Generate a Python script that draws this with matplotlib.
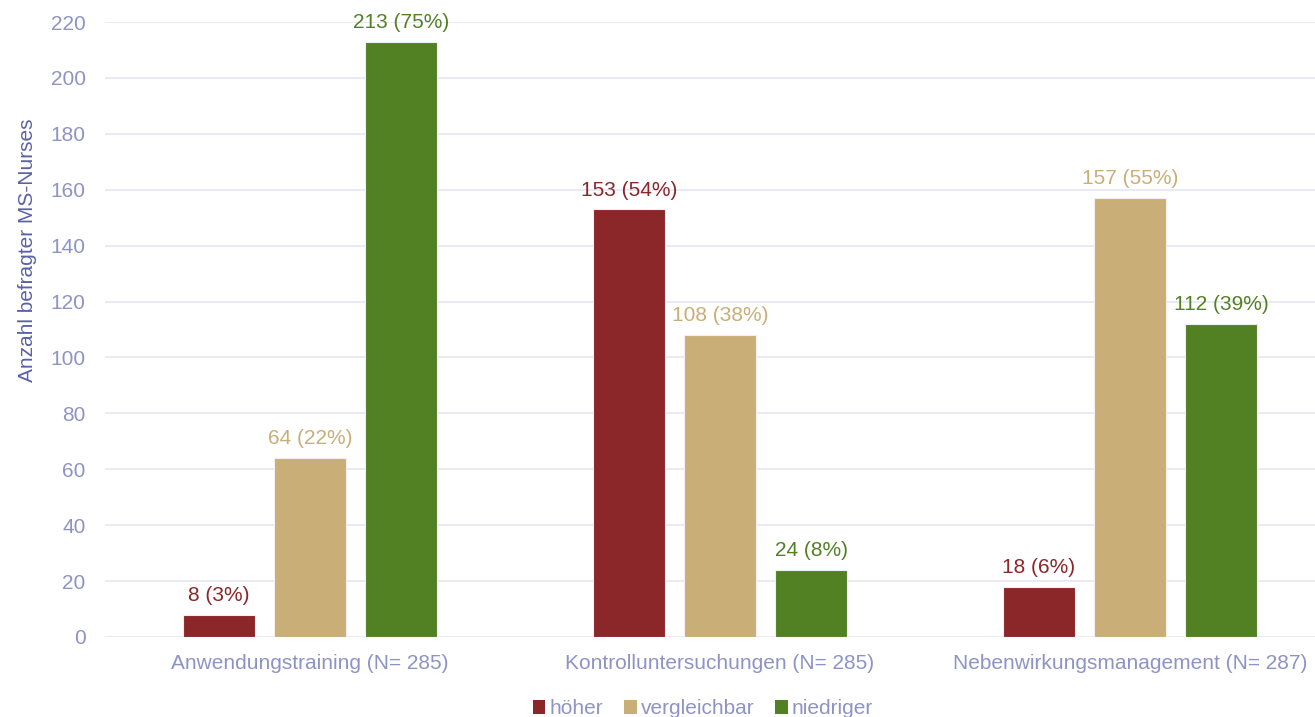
import numpy as np
from matplotlib import pyplot as plt
from matplotlib.patches import Patch

plt.rcParams['font.family'] = ['Liberation Sans', 'DejaVu Sans']

categories = ["Anwendungstraining (N= 285)",
              "Kontrolluntersuchungen (N= 285)",
              "Nebenwirkungsmanagement (N= 287)"]
series = ["höher", "vergleichbar", "niedriger"]
counts = {
    "höher": [8, 153, 18],
    "vergleichbar": [64, 108, 157],
    "niedriger": [213, 24, 112],
}
percents = {
    "höher": [3, 54, 6],
    "vergleichbar": [22, 38, 55],
    "niedriger": [75, 8, 39],
}
colors = {"höher": "#8b2629", "vergleichbar": "#c9ae78", "niedriger": "#528124"}

tick_color = "#8e93c6"
grid_color = "#e6e6f5"
fs = 15

fig = plt.figure(figsize=(13.15, 7.17), dpi=100)
# axes runs a bit past the right edge, like the original
ax = fig.add_axes([105 / 1315, 1 - 637 / 717, 1230 / 1315, 615 / 717])

x = np.arange(len(categories))
width = 0.1756
step = 0.222
for i, s in enumerate(series):
    xs = x + (i - 1) * step
    ax.bar(xs, counts[s], width=width, color=colors[s], edgecolor="#f4eeee",
           linewidth=0.8, zorder=3)
    for xi, v, p in zip(xs, counts[s], percents[s]):
        ax.annotate(f"{v} ({p}%)", (xi, v), xytext=(0, 7), textcoords="offset points",
                    ha="center", va="bottom", color=colors[s], fontsize=fs)

ax.set_xlim(-0.5, 2.5)
ax.set_ylim(0, 220)
ax.set_yticks(range(0, 221, 20))
ax.set_xticks(x)
ax.set_xticklabels(categories)
ax.tick_params(axis="both", length=0, colors=tick_color, labelsize=fs)
ax.tick_params(axis="y", pad=14)
ax.tick_params(axis="x", pad=12)
ax.grid(axis="y", color=grid_color, linewidth=1.2, zorder=0)
for sp in ax.spines.values():
    sp.set_visible(False)
ax.set_ylabel("Anzahl befragter MS-Nurses", color="#5b61a8", fontsize=fs)
ax.yaxis.set_label_coords(-0.055, 0.629)

handles = [Patch(facecolor=colors[s], edgecolor="none") for s in series]
leg = fig.legend(handles, series, loc="lower center", bbox_to_anchor=(703 / 1315, -0.028),
                 ncol=3, frameon=False, fontsize=fs, handlelength=0.6, handleheight=0.6,
                 handletextpad=0.2, columnspacing=1.0)
for t in leg.get_texts():
    t.set_color(tick_color)

fig.savefig("out.png", dpi=100)
